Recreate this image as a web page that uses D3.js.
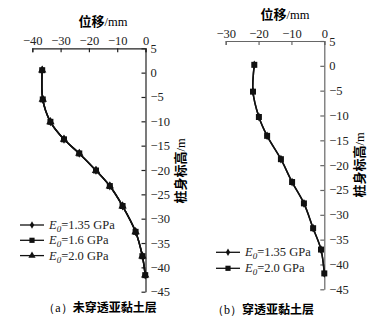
<!DOCTYPE html>
<html>
<head>
<meta charset="utf-8">
<script src="https://cdn.jsdelivr.net/npm/d3@7"></script>
<style>
  body { margin: 0; background: #fff; }
  svg { display: block; }
  .tick text { font-family: "Liberation Serif", "DejaVu Serif", serif; font-size: 12.5px; fill: #222; }
  .cjk { font-family: "Noto Sans CJK SC", sans-serif; font-weight: 700; }
  .serif { font-family: "Liberation Serif", serif; }
</style>
</head>
<body>
<svg width="386" height="322"></svg>
<script>
// panel (a): not penetrating the clay layer
const depthA = [0.5, -5.5, -10.1, -13.7, -16.6, -20.1, -23.3, -27.4, -32.7, -37.7, -41.6];
const dispA135 = [-36.5, -36.3, -33.6, -28.8, -23.4, -17.5, -12.6, -8.1, -3.5, -1.1, -0.1];
const dispA16  = [-36.5, -36.3, -33.6, -28.8, -23.4, -17.5, -12.6, -8.1, -3.5, -1.1, -0.1];
const dispA20  = [-36.5, -36.3, -33.6, -28.8, -23.4, -17.5, -12.6, -8.1, -3.5, -1.1, -0.1];

// panel (b): penetrating the clay layer
const depthB = [0.2, -5.2, -10.3, -14.1, -18.8, -23.4, -27.7, -32.7, -37.0, -41.8];
const dispB135 = [-21.3, -21.7, -19.9, -17.4, -13.2, -9.8, -6.2, -3.4, -1.0, 0.0];
const dispB20  = [-21.3, -21.7, -19.9, -17.4, -13.2, -9.8, -6.2, -3.4, -1.0, 0.0];

const xTicksA = [-40, -30, -20, -10, 0];
const xTicksB = [-30, -20, -10, 0];
const yTicks = [5, 0, -5, -10, -15, -20, -25, -30, -35, -40, -45];

const legendA = ['1.35', '1.6', '2.0'];
const legendB = ['1.35', '2.0'];

const svg = d3.select('svg');

function drawPanel(opt) {
  const x = d3.scaleLinear().domain(opt.xDomain).range(opt.xRange);
  const y = d3.scaleLinear().domain([5, -45]).range(opt.yRange);
  const g = svg.append('g');

  g.append('g')
    .attr('transform', 'translate(0,' + opt.yRange[0] + ')')
    .call(d3.axisTop(x).tickValues(opt.xTicks).tickSizeInner(-4).tickSizeOuter(-4).tickPadding(3))
    .call(a => a.selectAll('line,path').attr('stroke', opt.axisColor).attr('stroke-width', 1.2));

  g.append('g')
    .attr('transform', 'translate(' + opt.xRange[1] + ',0)')
    .call(d3.axisRight(y).tickValues(yTicks).tickSizeInner(-4).tickSizeOuter(0).tickPadding(5))
    .call(a => a.selectAll('line,path').attr('stroke', opt.axisColor).attr('stroke-width', 1.2))
    .call(a => a.selectAll('text').attr('text-anchor', 'start'));

  // axis titles
  const xt = g.append('text')
    .attr('x', opt.xTitle[0]).attr('y', opt.xTitle[1])
    .attr('text-anchor', 'middle').attr('font-size', 13);
  xt.append('tspan').attr('class', 'cjk').text('位移');
  xt.append('tspan').attr('class', 'serif').attr('font-size', 12.5).text('/mm');

  const yt = g.append('text')
    .attr('transform', 'translate(' + opt.yTitle[0] + ',' + opt.yTitle[1] + ') rotate(-90)')
    .attr('text-anchor', 'middle').attr('font-size', 13);
  yt.append('tspan').attr('class', 'cjk').text('桩身标高');
  yt.append('tspan').attr('class', 'serif').attr('font-size', 12.5).text('/m');

  const line = d3.line()
    .x(d => x(d[0])).y(d => y(d[1]))
    .curve(d3.curveCatmullRom.alpha(0.5));

  opt.series.forEach(s => {
    const pts = s.values.map((v, i) => [v, opt.depth[i]]);
    g.append('path')
      .attr('d', line(pts))
      .attr('fill', 'none')
      .attr('stroke', '#111')
      .attr('stroke-width', 1.5);
    g.selectAll(null).data(pts).enter().append('path')
      .attr('transform', d => 'translate(' + x(d[0]) + ',' + y(d[1]) + ')')
      .attr('d', d3.symbol().type(s.symbol).size(s.size))
      .attr('fill', '#111');
  });

  // legend
  opt.series.forEach((s, i) => {
    const ly = opt.legend[1] + i * opt.legendStep;
    const lx = opt.legend[0];
    g.append('line')
      .attr('x1', lx).attr('x2', lx + 24).attr('y1', ly).attr('y2', ly)
      .attr('stroke', '#111').attr('stroke-width', 1.3);
    g.append('path')
      .attr('transform', 'translate(' + (lx + 12) + ',' + ly + ')')
      .attr('d', d3.symbol().type(s.symbol).size(s.size * 0.75))
      .attr('fill', '#111');
    const t = g.append('text')
      .attr('x', lx + 29).attr('y', ly + 4)
      .attr('class', 'serif').attr('font-size', 12.5).attr('fill', '#222');
    t.append('tspan').attr('font-style', 'italic').text('E');
    t.append('tspan').attr('font-style', 'italic').attr('font-size', 9).attr('dy', 3).text('0');
    t.append('tspan').attr('dy', -3).text('=' + s.label + ' GPa');
  });

  // caption
  const c = g.append('text')
    .attr('x', opt.caption[0]).attr('y', opt.caption[1])
    .attr('text-anchor', 'middle').attr('font-size', 12);
  c.append('tspan').attr('class', 'serif').text('（' + opt.tag + '）');
  c.append('tspan').attr('class', 'cjk').text(opt.captionText);
}

drawPanel({
  xDomain: [-40, 0], xRange: [32.3, 145.5], yRange: [48.3, 291.7],
  xTicks: xTicksA, axisColor: '#222',
  depth: depthA,
  series: [
    { values: dispA135, symbol: d3.symbolDiamond, size: 22, label: legendA[0] },
    { values: dispA16, symbol: d3.symbolSquare, size: 36, label: legendA[1] },
    { values: dispA20, symbol: d3.symbolTriangle, size: 30, label: legendA[2] }
  ],
  xTitle: [103, 26], yTitle: [185, 171],
  legend: [20, 225], legendStep: 15.3,
  caption: [100, 312], tag: 'a', captionText: '未穿透亚黏土层'
});

drawPanel({
  xDomain: [-30, 0], xRange: [225.7, 324.3], yRange: [41, 289.3],
  xTicks: xTicksB, axisColor: '#666',
  depth: depthB,
  series: [
    { values: dispB135, symbol: d3.symbolDiamond, size: 22, label: legendB[0] },
    { values: dispB20, symbol: d3.symbolSquare, size: 36, label: legendB[1] }
  ],
  xTitle: [285, 19], yTitle: [364, 165],
  legend: [216, 252.3], legendStep: 16,
  caption: [263, 314], tag: 'b', captionText: '穿透亚黏土层'
});
</script>
</body>
</html>
